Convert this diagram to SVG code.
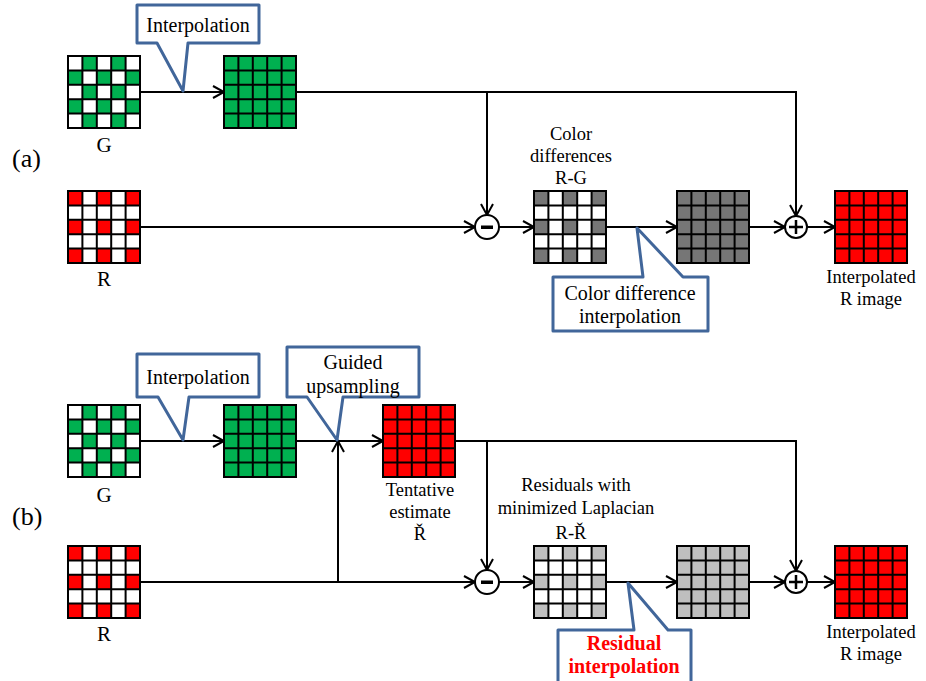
<svg xmlns="http://www.w3.org/2000/svg" width="926" height="681" viewBox="0 0 926 681" font-family="'Liberation Serif', 'Times New Roman', serif">
<style>
text{font-family:"Liberation Serif","Times New Roman",serif;fill:#000}
.lbl{font-size:18.5px;text-anchor:middle}
.big{font-size:21px;text-anchor:middle}
.sec{font-size:26px}
.co{font-size:20px;text-anchor:middle}
.cored{font-size:20px;text-anchor:middle;font-weight:bold;fill:#FF0000}
.callout{fill:#fff;stroke:#41669A;stroke-width:3;stroke-linejoin:round}
.conn{fill:none;stroke:#000;stroke-width:2;marker-end:url(#arr)}
.op{fill:#fff;stroke:#000;stroke-width:2}
</style>
<defs>
<marker id="arr" markerUnits="userSpaceOnUse" markerWidth="16" markerHeight="16" refX="12" refY="7" orient="auto">
<path d="M1,1 L12,7 L1,13" fill="none" stroke="#000" stroke-width="2"/>
</marker>
<path id="lines" d="M0,0H72V72H0Z M14.4,0V72 M28.8,0V72 M43.2,0V72 M57.6,0V72 M0,14.4H72 M0,28.8H72 M0,43.2H72 M0,57.6H72" fill="none" stroke="#000" stroke-width="2"/>
<path id="chk" d="M14.4,0h14.4v14.4h-14.4z M43.2,0h14.4v14.4h-14.4z M0,14.4h14.4v14.4h-14.4z M28.8,14.4h14.4v14.4h-14.4z M57.6,14.4h14.4v14.4h-14.4z M14.4,28.8h14.4v14.4h-14.4z M43.2,28.8h14.4v14.4h-14.4z M0,43.2h14.4v14.4h-14.4z M28.8,43.2h14.4v14.4h-14.4z M57.6,43.2h14.4v14.4h-14.4z M14.4,57.6h14.4v14.4h-14.4z M43.2,57.6h14.4v14.4h-14.4z"/>
<path id="sparse" d="M0,0h14.4v14.4h-14.4z M28.8,0h14.4v14.4h-14.4z M57.6,0h14.4v14.4h-14.4z M0,28.8h14.4v14.4h-14.4z M28.8,28.8h14.4v14.4h-14.4z M57.6,28.8h14.4v14.4h-14.4z M0,57.6h14.4v14.4h-14.4z M28.8,57.6h14.4v14.4h-14.4z M57.6,57.6h14.4v14.4h-14.4z"/>
</defs>
<rect width="926" height="681" fill="#fff"/>

<text class="sec" x="12" y="167">(a)</text>
<text class="sec" x="12" y="525">(b)</text>

<g id="connectors">
<path class="conn" d="M141,92 H224"/>
<path class="conn" d="M297,92 H796 V216"/>
<path class="conn" d="M487,92 V215"/>
<path class="conn" d="M141,227 H475"/>
<path class="conn" d="M499,227 H534"/>
<path class="conn" d="M607,227 H677"/>
<path class="conn" d="M749,227 H785"/>
<path class="conn" d="M807,227 H835"/>
<path class="conn" d="M141,441 H224"/>
<path class="conn" d="M297,441 H383"/>
<path class="conn" d="M141,582 H475"/>
<path class="conn" d="M338,582 V441"/>
<path class="conn" d="M455,441 H796 V571"/>
<path class="conn" d="M487,441 V570"/>
<path class="conn" d="M499,582 H534"/>
<path class="conn" d="M607,582 H677"/>
<path class="conn" d="M749,582 H785"/>
<path class="conn" d="M807,582 H835"/>
</g>

<!-- (a) -->
<g id="a-G">
<g transform="translate(68,56)"><rect width="72" height="72" fill="#fff"/><use href="#chk" fill="#00B050"/><use href="#lines"/></g>
<text class="big" x="104" y="152">G</text>
</g>
<g id="a-G-full" transform="translate(224,56)"><rect width="72" height="72" fill="#00B050"/><use href="#lines"/></g>
<g id="a-R">
<g transform="translate(68,191)"><rect width="72" height="72" fill="#fff"/><use href="#sparse" fill="#FF0000"/><use href="#lines"/></g>
<text class="big" x="104" y="286">R</text>
</g>
<g id="a-minus"><circle class="op" cx="487" cy="227" r="12"/><rect x="481" y="225.5" width="12" height="3.5" fill="#000"/></g>
<g id="a-diff">
<text class="lbl" x="571" y="140">Color</text>
<text class="lbl" x="571" y="162">differences</text>
<text class="lbl" x="571" y="184">R-G</text>
<g transform="translate(534,191)"><rect width="72" height="72" fill="#fff"/><use href="#sparse" fill="#767676"/><use href="#lines"/></g>
</g>
<g id="a-diff-full" transform="translate(677,191)"><rect width="72" height="72" fill="#767676"/><use href="#lines"/></g>
<g id="a-plus"><circle class="op" cx="796" cy="227" r="11"/><path d="M789,227H803M796,220V234" stroke="#000" stroke-width="2.5"/></g>
<g id="a-out">
<g transform="translate(835,191)"><rect width="72" height="72" fill="#FF0000"/><use href="#lines"/></g>
<text class="lbl" x="871" y="283">Interpolated</text>
<text class="lbl" x="871" y="305">R image</text>
</g>
<g id="a-callout-interp">
<path class="callout" d="M137,5 H259 V43 H188 L183,91 L157,43 H137 Z"/>
<text class="co" x="198" y="32">Interpolation</text>
</g>
<g id="a-callout-cdi">
<path class="callout" d="M553,277 H643 L637,228 L683,277 H708 V331 H553 Z"/>
<text class="co" x="630" y="300">Color difference</text>
<text class="co" x="630" y="323">interpolation</text>
</g>

<!-- (b) -->
<g id="b-G">
<g transform="translate(68,405)"><rect width="72" height="72" fill="#fff"/><use href="#chk" fill="#00B050"/><use href="#lines"/></g>
<text class="big" x="104" y="502">G</text>
</g>
<g id="b-G-full" transform="translate(224,405)"><rect width="72" height="72" fill="#00B050"/><use href="#lines"/></g>
<g id="b-tentative">
<g transform="translate(383,405)"><rect width="72" height="72" fill="#FF0000"/><use href="#lines"/></g>
<text class="lbl" x="420" y="496">Tentative</text>
<text class="lbl" x="420" y="518">estimate</text>
<text class="lbl" x="420" y="540">Ř</text>
</g>
<g id="b-R">
<g transform="translate(68,546)"><rect width="72" height="72" fill="#fff"/><use href="#sparse" fill="#FF0000"/><use href="#lines"/></g>
<text class="big" x="104" y="641">R</text>
</g>
<g id="b-minus"><circle class="op" cx="487" cy="582" r="12"/><rect x="481" y="580.5" width="12" height="3.5" fill="#000"/></g>
<g id="b-resid">
<text class="lbl" x="576" y="491">Residuals with</text>
<text class="lbl" x="576" y="514">minimized Laplacian</text>
<text class="lbl" x="571" y="539">R-Ř</text>
<g transform="translate(534,546)"><rect width="72" height="72" fill="#fff"/><use href="#sparse" fill="#BFBFBF"/><use href="#lines"/></g>
</g>
<g id="b-resid-full" transform="translate(677,546)"><rect width="72" height="72" fill="#BFBFBF"/><use href="#lines"/></g>
<g id="b-plus"><circle class="op" cx="796" cy="582" r="11"/><path d="M789,582H803M796,575V589" stroke="#000" stroke-width="2.5"/></g>
<g id="b-out">
<g transform="translate(835,546)"><rect width="72" height="72" fill="#FF0000"/><use href="#lines"/></g>
<text class="lbl" x="871" y="638">Interpolated</text>
<text class="lbl" x="871" y="660">R image</text>
</g>
<g id="b-callout-interp">
<path class="callout" d="M137,354 H259 V397 H189 L183,440 L158,397 H137 Z"/>
<text class="co" x="198" y="384">Interpolation</text>
</g>
<g id="b-callout-guided">
<path class="callout" d="M287,347 H419 V397 H343 L337,440 L307,397 H287 Z"/>
<text class="co" x="353" y="369">Guided</text>
<text class="co" x="353" y="393">upsampling</text>
</g>
<g id="b-callout-resid">
<path class="callout" d="M558,630 H634 L628,583 L668,630 H691 V692 H558 Z"/>
<text class="cored" x="624" y="650">Residual</text>
<text class="cored" x="624" y="673">interpolation</text>
</g>
</svg>
